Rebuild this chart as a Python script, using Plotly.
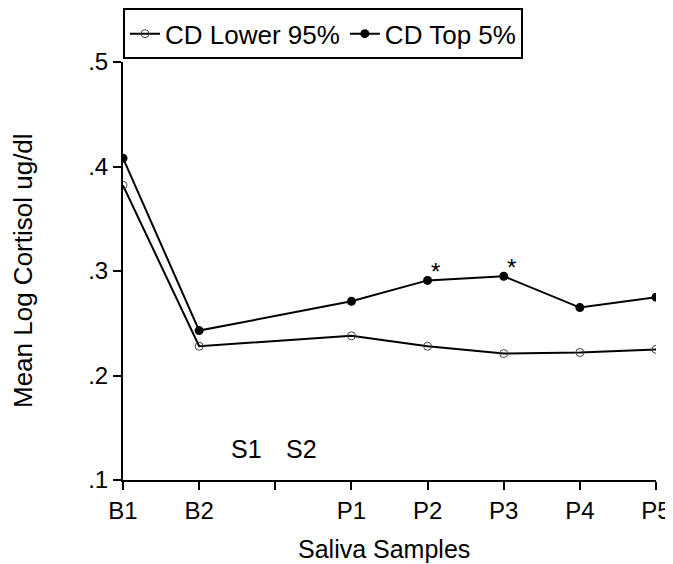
import plotly.graph_objects as go

x_pos = [0, 1, 3, 4, 5, 6, 7]
tick_vals = [0, 1, 2, 3, 4, 5, 6, 7]
tick_text = ["B1", "B2", "", "P1", "P2", "P3", "P4", "P5"]
lower_95 = [0.382, 0.228, 0.238, 0.228, 0.221, 0.222, 0.225]
top_5 = [0.408, 0.243, 0.271, 0.291, 0.295, 0.265, 0.275]
y_ticks = [0.1, 0.2, 0.3, 0.4, 0.5]
y_text = [".1", ".2", ".3", ".4", ".5"]
star_x = [4, 5]
star_y = [0.291, 0.295]
stim_labels = ["S1", "S2"]
stim_x = [1.625, 2.35]
stim_y = [0.13, 0.13]

FONT = "Liberation Sans, Arial, sans-serif"
FS = 25

fig = go.Figure()
fig.add_trace(go.Scatter(
    x=x_pos, y=lower_95, mode="lines+markers", name="CD Lower 95%",
    line=dict(color="black", width=2),
    marker=dict(symbol="circle-open", size=8, color="#444",
                line=dict(width=1, color="#444")),
))
fig.add_trace(go.Scatter(
    x=x_pos, y=top_5, mode="lines+markers", name="CD Top 5%",
    line=dict(color="black", width=2),
    marker=dict(symbol="circle", size=9, color="black"),
))

for sx, sy in zip(star_x, star_y):
    fig.add_annotation(x=sx, y=sy, text="*", showarrow=False,
                       xshift=8, yshift=9,
                       font=dict(family=FONT, size=24, color="black"))
for lab, sx, sy in zip(stim_labels, stim_x, stim_y):
    fig.add_annotation(x=sx, y=sy, text=lab, showarrow=False,
                       font=dict(family=FONT, size=FS, color="black"))

# axis titles
fig.add_annotation(xref="paper", yref="paper", x=0.49, y=-0.165,
                   text="Saliva Samples", showarrow=False,
                   xanchor="center", yanchor="middle",
                   font=dict(family=FONT, size=FS, color="black"))
fig.add_annotation(xref="paper", yref="paper", x=-0.1876, y=0.5,
                   text="Mean Log Cortisol ug/dl", showarrow=False,
                   textangle=-90, xanchor="center", yanchor="middle",
                   font=dict(family=FONT, size=26, color="black"))

fig.update_layout(
    width=665, height=556,
    margin=dict(l=115, r=17, t=54, b=84, autoexpand=False),
    paper_bgcolor="white", plot_bgcolor="white",
    font=dict(family=FONT, size=24, color="black"),
    showlegend=True,
    legend=dict(orientation="h", x=0, y=1.1285, xanchor="left", yanchor="top",
                bordercolor="black", borderwidth=2,
                font=dict(family=FONT, size=26, color="black"),
                itemwidth=30, tracegroupgap=0),
    xaxis=dict(range=[0, 7], tickvals=tick_vals, ticktext=tick_text,
               automargin=False,
               showline=True, linecolor="black", linewidth=2,
               ticks="outside", ticklen=8, tickwidth=2, tickcolor="black",
               showgrid=False, zeroline=False),
    yaxis=dict(range=[0.1, 0.5], tickvals=y_ticks, ticktext=y_text,
               automargin=False,
               showline=True, linecolor="black", linewidth=2,
               ticks="outside", ticklen=8, tickwidth=2, tickcolor="black",
               showgrid=False, zeroline=False),
)

fig.write_html("out.html")
